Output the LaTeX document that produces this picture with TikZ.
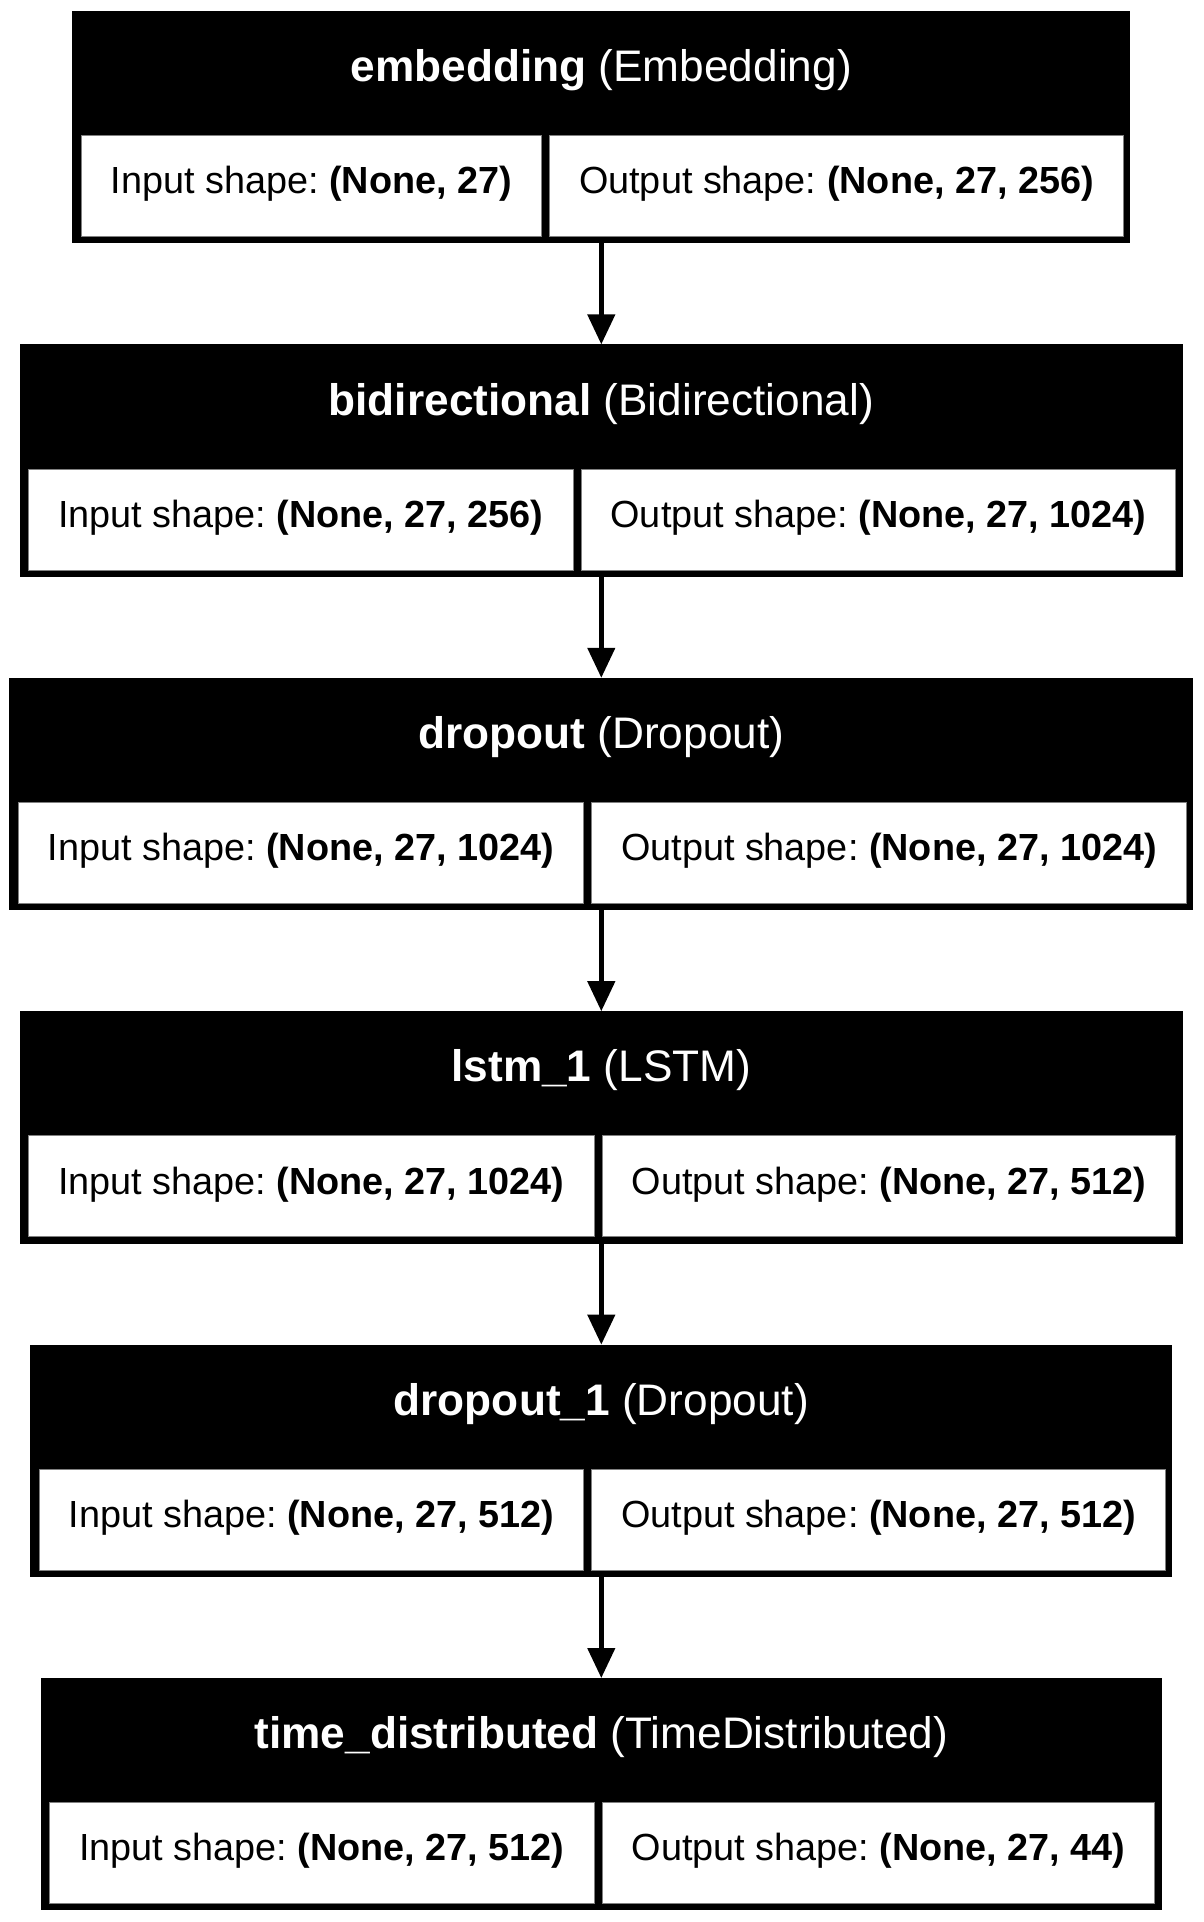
\documentclass[tikz,border=0pt]{standalone}
\usepackage{fontspec}
\setmainfont{Liberation Sans}
\frenchspacing
\usetikzlibrary{arrows.meta,fit,backgrounds,calc}
\tikzset{
  cellbox/.style={fill=white, draw=black!50, line width=1pt, inner xsep=29.5pt, inner ysep=0pt,
    minimum height=101pt, outer sep=0pt, text height=27pt, text depth=11.4pt,
    font=\fontsize{37.8}{45}\selectfont},
  titlebox/.style={text=white, anchor=base, inner sep=0pt, font=\fontsize{44.2}{52}\selectfont},
  outerbox/.style={fill=black, inner sep=0pt, outer sep=0pt},
  flow/.style={line width=4.5pt, -{Triangle[length=30pt,width=27pt]}}
}
\newcommand\layerblock[5]{% id, top, title, input, output
  \coordinate (#1top) at (0,#2);
  \matrix (#1m) [matrix anchor=south, column sep=7pt, inner sep=0pt, ampersand replacement=\&] at (602.3,#2+226.3) {
    \node[cellbox] (#1in) {Input shape: \textbf{#4}}; \& \node[cellbox] (#1out) {Output shape: \textbf{#5}}; \\
  };
  \coordinate (#1a) at ($(#1in.south west)+(-9,6.7)$);
  \coordinate (#1b) at ($(#1out.east |- #1top)+(7,0)$);
  \begin{scope}[on background layer]
    \node[outerbox, fit=(#1a)(#1b)] (#1) {};
  \end{scope}
  \node[titlebox] (#1t) at ($(#1.north)+(0,70.7)$) {#3};
}
\begin{document}
\begin{tikzpicture}[x=1pt, y=-1pt]
  \begin{scope}[on background layer]
    \fill[white] (0,0) rectangle (1203,1922);
  \end{scope}
  \useasboundingbox (0,0) rectangle (1203,1922);
  \layerblock{emb}{11}{\textbf{embedding} (Embedding)}{(None, 27)}{(None, 27, 256)}
  \layerblock{bid}{344.4}{\textbf{bidirectional} (Bidirectional)}{(None, 27, 256)}{(None, 27, 1024)}
  \layerblock{dro}{677.8}{\textbf{dropout} (Dropout)}{(None, 27, 1024)}{(None, 27, 1024)}
  \layerblock{lst}{1011.2}{\textbf{lstm\_1} (LSTM)}{(None, 27, 1024)}{(None, 27, 512)}
  \layerblock{drt}{1344.6}{\textbf{dropout\_1} (Dropout)}{(None, 27, 512)}{(None, 27, 512)}
  \layerblock{tim}{1678}{\textbf{time\_distributed} (TimeDistributed)}{(None, 27, 512)}{(None, 27, 44)}
  \draw[flow] (emb.south) -- (bid.north);
  \draw[flow] (bid.south) -- (dro.north);
  \draw[flow] (dro.south) -- (lst.north);
  \draw[flow] (lst.south) -- (drt.north);
  \draw[flow] (drt.south) -- (tim.north);
\end{tikzpicture}
\end{document}
